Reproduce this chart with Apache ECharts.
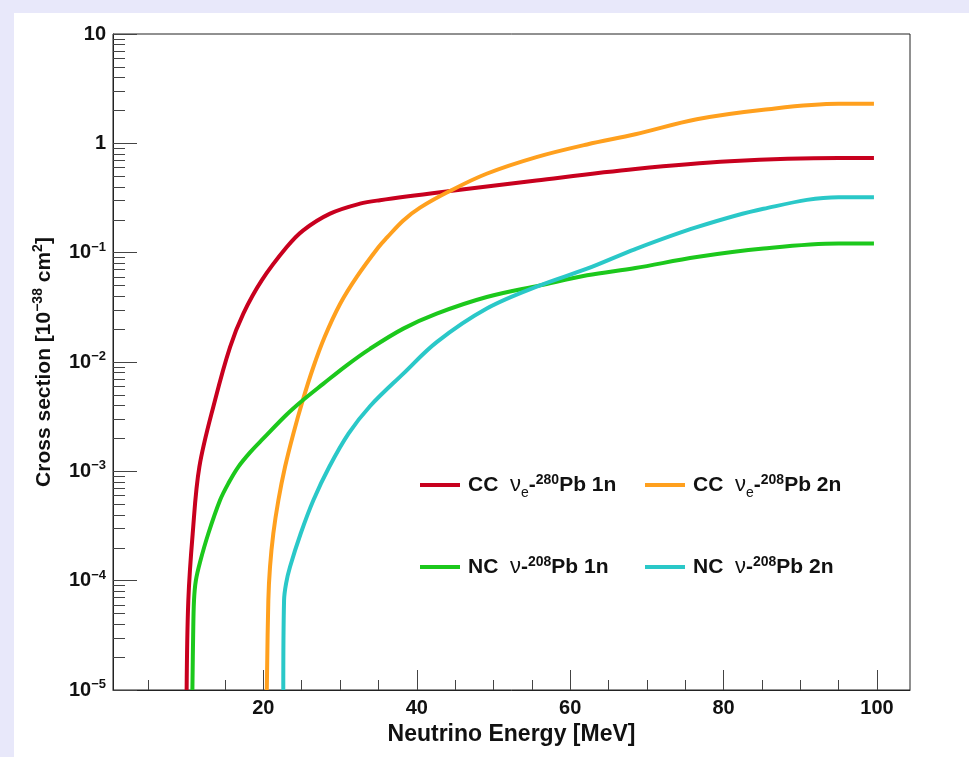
<!DOCTYPE html>
<html>
<head>
<meta charset="utf-8">
<script src="https://cdn.jsdelivr.net/npm/echarts@6/dist/echarts.min.js"></script>
<style>
  html, body { margin: 0; padding: 0; background: #fff; }
  #main { width: 969px; height: 757px; }
</style>
</head>
<body>
<div id="main"></div>
<script>
var FONT = "'Liberation Sans', Arial, Helvetica, sans-serif";

// series names (legend)
var names = ['CC νe-280Pb 1n', 'CC νe-208Pb 2n', 'NC ν-208Pb 1n', 'NC ν-208Pb 2n'];
var colors = ['#c8001e', '#ffa01e', '#1cc81c', '#2ac8c8'];

// CC nu_e - Pb 1n (red)
var ccE1 = [10.0, 10.22, 10.79, 11.66, 13.7, 15.66, 17.39, 19.79, 23.05, 25.2, 28.7, 32.6, 35.2, 44.3, 55.6, 68.5, 80.8, 95.0, 99.6];
var cc1  = [1.0e-5, 6.6e-5, 2.7e-4, 1.1e-3, 4.47e-3, 1.37e-2, 2.77e-2, 5.58e-2, 0.1125, 0.160, 0.2275, 0.2805, 0.302, 0.366, 0.458, 0.582, 0.684, 0.733, 0.733];

// CC nu_e - Pb 2n (orange)
var ccE2 = [20.45, 20.65, 20.87, 21.3, 21.96, 22.83, 23.91, 25.14, 26.5, 28.0, 30.0, 32.2, 35.0, 36.1, 38.25, 40.43, 44.3, 49.1, 55.6, 62.2, 68.5, 76.5, 85.2, 95.0, 99.6];
var cc2  = [1.0e-5, 6.6e-5, 1.34e-4, 2.7e-4, 5.44e-4, 1.1e-3, 2.21e-3, 4.47e-3, 8.91e-3, 1.70e-2, 3.39e-2, 6.03e-2, 0.112, 0.137, 0.197, 0.258, 0.366, 0.527, 0.748, 0.977, 1.21, 1.66, 2.03, 2.30, 2.30];

// NC nu - Pb 1n (green)
var ncE1 = [10.75, 10.85, 10.96, 11.2, 11.75, 12.83, 14.35, 15.5, 16.74, 18.3, 20.0, 23.05, 25.14, 27.8, 30.87, 33.9, 38.25, 42.6, 49.13, 56.08, 62.2, 68.5, 76.5, 85.2, 95.0, 99.6];
var nc1  = [1.0e-5, 3.2e-5, 6.6e-5, 1.0e-4, 1.48e-4, 2.7e-4, 5.44e-4, 7.9e-4, 1.1e-3, 1.5e-3, 2.0e-3, 3.31e-3, 4.47e-3, 6.31e-3, 9.33e-3, 1.32e-2, 2.02e-2, 2.77e-2, 3.93e-2, 5.02e-2, 6.21e-2, 7.24e-2, 9.12e-2, 0.109, 0.121, 0.121];

// NC nu - Pb 2n (cyan)
var ncE2 = [22.6, 22.7, 22.96, 23.48, 24.87, 26.52, 28.6, 31.1, 33.9, 38.25, 42.6, 49.13, 56.08, 62.2, 68.5, 76.5, 85.2, 95.0, 99.6];
var nc2  = [1.0e-5, 6.6e-5, 9.4e-5, 1.34e-4, 2.7e-4, 5.44e-4, 1.1e-3, 2.21e-3, 3.94e-3, 7.83e-3, 1.52e-2, 3.08e-2, 5.02e-2, 7.14e-2, 0.108, 0.171, 0.252, 0.322, 0.322];

// ticks
var xMajor = [20, 40, 60, 80, 100];
var xMinor = [5, 10, 15, 25, 30, 35, 45, 50, 55, 65, 70, 75, 85, 90, 95];
var yMajor = [1e-5, 1e-4, 1e-3, 1e-2, 1e-1, 1, 10];
var yBase = ['10', '10', '10', '10', '10', '1', '10'];
var yExp = ['−5', '−4', '−3', '−2', '−1', '', ''];
var yMinor = [];
for (var d = -5; d <= 0; d++) {
  for (var m = 2; m <= 9; m++) yMinor.push(m * Math.pow(10, d));
}

var legendText = {};
legendText[names[0]] = '{t|CC  }{nu|ν}{sub|e}{t|-}{sup|280}{t|Pb 1n}';
legendText[names[1]] = '{t|CC  }{nu|ν}{sub|e}{t|-}{sup|208}{t|Pb 2n}';
legendText[names[2]] = '{t|NC  }{nu|ν}{t|-}{sup|208}{t|Pb 1n}';
legendText[names[3]] = '{t|NC  }{nu|ν}{t|-}{sup|208}{t|Pb 2n}';

function pairs(xs, ys) {
  return xs.map(function (x, i) { return [x, ys[i]]; });
}

var legendRich = {
  t: { fontFamily: FONT, fontSize: 21, fontWeight: 'bold', color: '#111', lineHeight: 30 },
  nu: { fontFamily: FONT, fontSize: 22, fontWeight: 'normal', color: '#111', lineHeight: 30 },
  sub: { fontFamily: FONT, fontSize: 14, fontWeight: 'normal', color: '#111', verticalAlign: 'bottom' },
  sup: { fontFamily: FONT, fontSize: 14, fontWeight: 'bold', color: '#111', verticalAlign: 'top', padding: [3, 0, 0, 0] }
};

function makeLegend(items, left) {
  return {
    data: items,
    orient: 'vertical',
    left: left,
    top: 473,
    padding: 0,
    itemGap: 55,
    icon: 'rect',
    itemWidth: 40,
    itemHeight: 4,
    selectedMode: false,
    formatter: function (n) { return legendText[n]; },
    textStyle: { padding: [0, 0, 0, 3], rich: legendRich }
  };
}

var lineCol = '#222';
var chart = echarts.init(document.getElementById('main'), null, { renderer: 'canvas' });

var option = {
  backgroundColor: '#fff',
  animation: false,
  graphic: [
    { type: 'rect', silent: true, shape: { x: 0, y: 0, width: 969, height: 13 }, style: { fill: '#e8e8fa' } },
    { type: 'rect', silent: true, shape: { x: 0, y: 0, width: 14, height: 757 }, style: { fill: '#e8e8fa' } }
  ],
  grid: {
    left: 113, right: 59, top: 34, bottom: 67,
    show: true, borderColor: lineCol, borderWidth: 1,
    containLabel: false, outerBoundsMode: 'none'
  },
  legend: [makeLegend([names[0], names[2]], 420), makeLegend([names[1], names[3]], 645)],
  xAxis: [
    {
      type: 'value', min: 0.4, max: 104.3, position: 'bottom',
      axisLine: { show: true, lineStyle: { color: lineCol, width: 1 } },
      axisTick: { show: true, inside: true, length: 20, customValues: xMajor, lineStyle: { color: '#444' } },
      axisLabel: { customValues: xMajor, margin: 8, fontFamily: FONT, fontSize: 20, fontWeight: 'bold', color: '#111' },
      splitLine: { show: false },
      name: 'Neutrino Energy [MeV]', nameLocation: 'middle', nameGap: 25,
      nameTextStyle: { fontFamily: FONT, fontSize: 23, fontWeight: 'bold', color: '#111' }
    },
    {
      type: 'value', min: 0.4, max: 104.3, position: 'bottom',
      axisLine: { show: false },
      axisTick: { show: true, inside: true, length: 10, customValues: xMinor, lineStyle: { color: '#444' } },
      axisLabel: { show: false },
      splitLine: { show: false }
    }
  ],
  yAxis: [
    {
      type: 'log', logBase: 10, min: 1e-5, max: 10, position: 'left',
      axisLine: { show: true, lineStyle: { color: lineCol, width: 1 } },
      axisTick: { show: true, inside: true, length: 24, customValues: yMajor, lineStyle: { color: '#444' } },
      axisLabel: {
        customValues: yMajor, margin: 7,
        formatter: function (v) {
          var i = Math.round(Math.log10(v)) + 5;
          return '{b|' + yBase[i] + '}' + (yExp[i] ? '{s|' + yExp[i] + '}' : '');
        },
        rich: {
          b: { fontFamily: FONT, fontSize: 20, fontWeight: 'bold', color: '#111', lineHeight: 24 },
          s: { fontFamily: FONT, fontSize: 13, fontWeight: 'bold', color: '#111', verticalAlign: 'top' }
        }
      },
      splitLine: { show: false },
      name: '{t|Cross section [10}{s|−38}{t| cm}{s|2}{t|]}',
      nameLocation: 'middle', nameGap: 56,
      nameTextStyle: {
        rich: {
          t: { fontFamily: FONT, fontSize: 21, fontWeight: 'bold', color: '#111', lineHeight: 26 },
          s: { fontFamily: FONT, fontSize: 14, fontWeight: 'bold', color: '#111', verticalAlign: 'top' }
        }
      }
    },
    {
      type: 'log', logBase: 10, min: 1e-5, max: 10, position: 'left',
      axisLine: { show: false },
      axisTick: { show: true, inside: true, length: 12, customValues: yMinor, lineStyle: { color: '#444' } },
      axisLabel: { show: false },
      splitLine: { show: false }
    }
  ],
  series: [
    { name: names[0], data: pairs(ccE1, cc1), color: colors[0] },
    { name: names[1], data: pairs(ccE2, cc2), color: colors[1] },
    { name: names[2], data: pairs(ncE1, nc1), color: colors[2] },
    { name: names[3], data: pairs(ncE2, nc2), color: colors[3] }
  ].map(function (s) {
    return {
      type: 'line', name: s.name, data: s.data,
      xAxisIndex: 0, yAxisIndex: 0,
      showSymbol: false, symbol: 'none',
      smooth: 0.35,
      itemStyle: { color: s.color },
      lineStyle: { color: s.color, width: 4 },
      emphasis: { disabled: true }
    };
  })
};

chart.setOption(option);
</script>
</body>
</html>
